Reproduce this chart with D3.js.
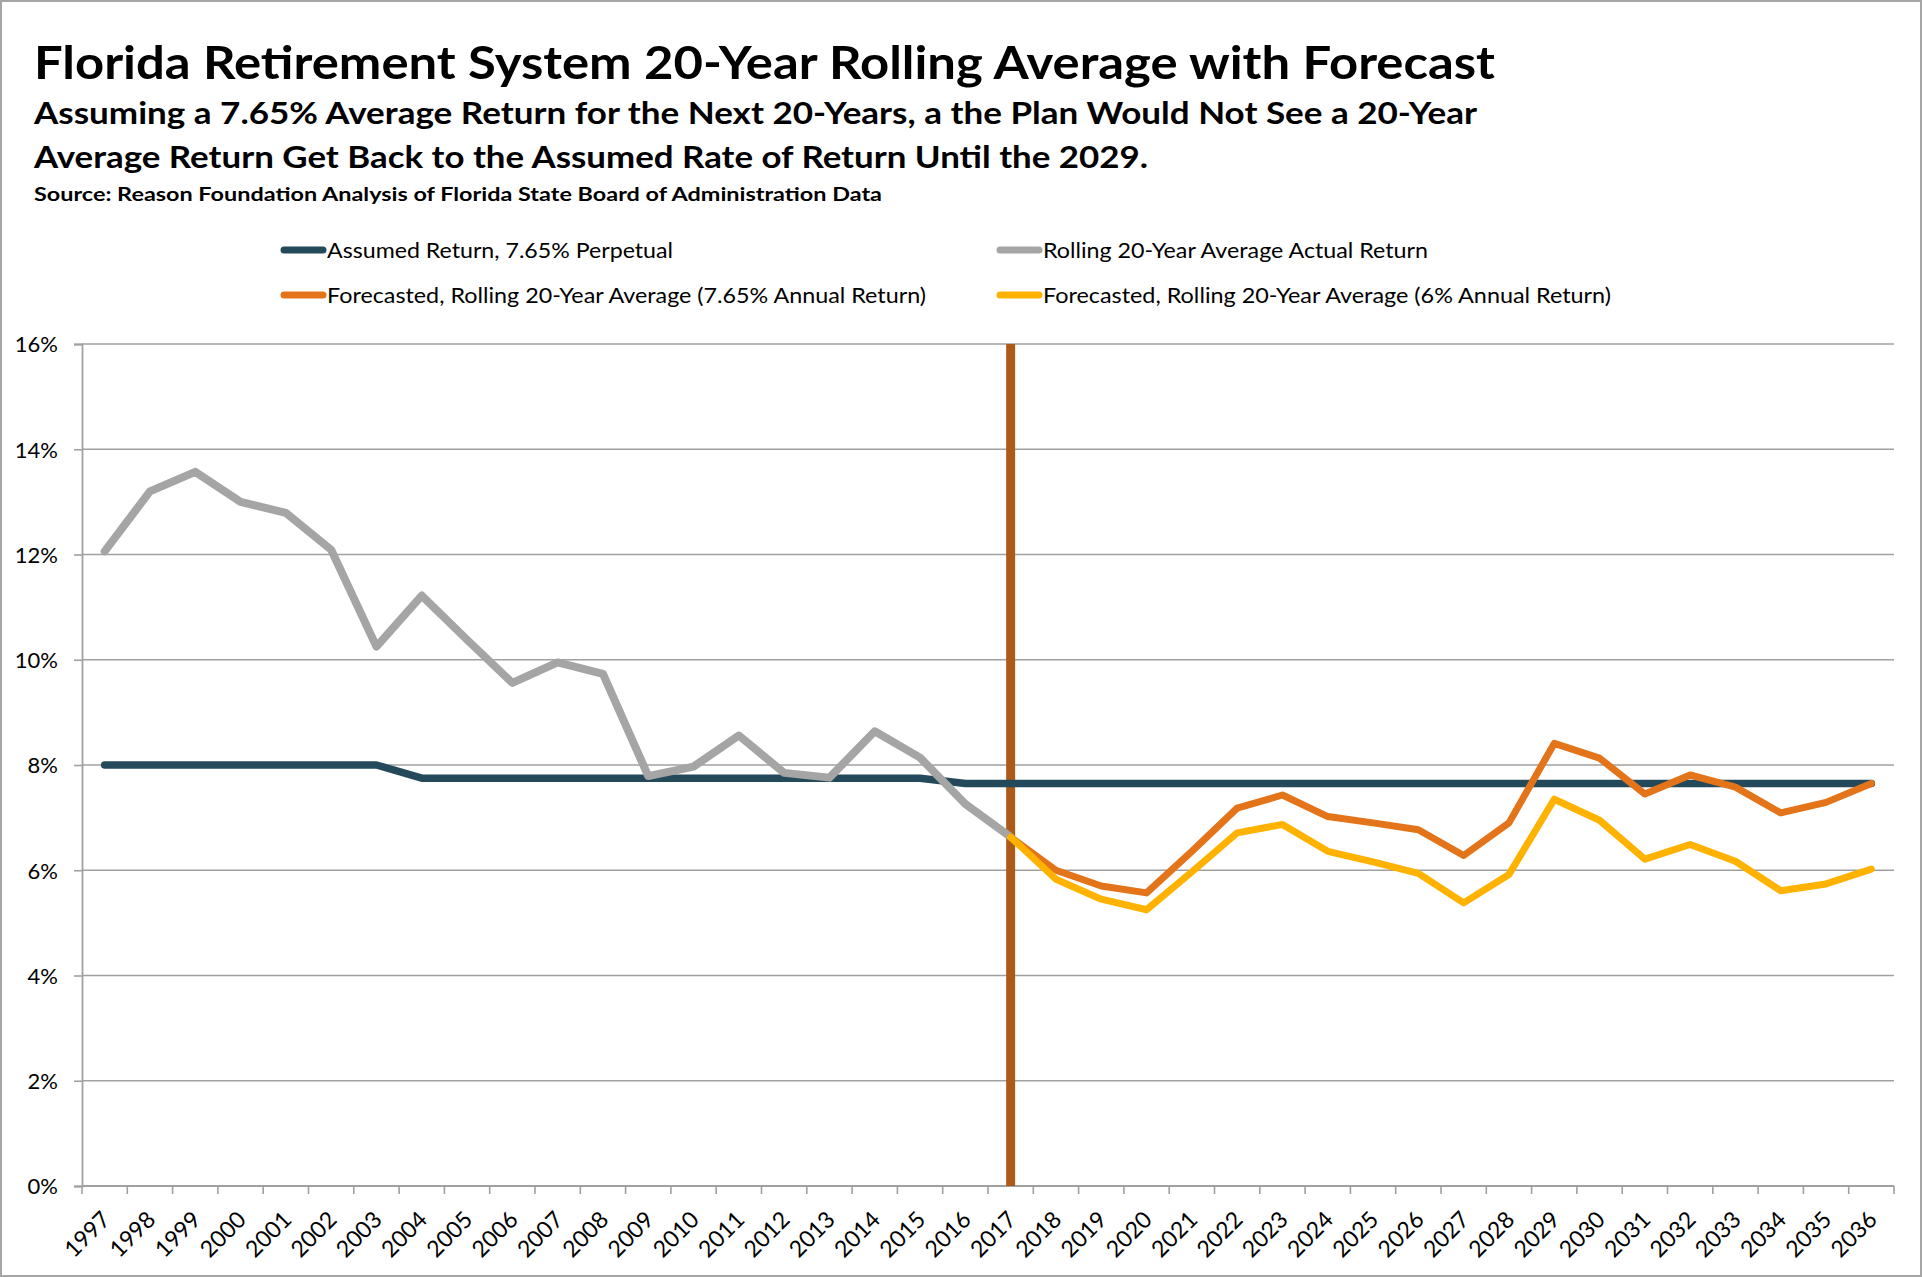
<!DOCTYPE html>
<html>
<head>
<meta charset="utf-8">
<script src="https://cdn.jsdelivr.net/npm/d3@7"></script>
<style>
  body { margin: 0; background: #fff; }
  svg { display: block; }
</style>
</head>
<body>
<div id="chart"></div>
<script>
// data
var years = ["1997","1998","1999","2000","2001","2002","2003","2004","2005","2006",
  "2007","2008","2009","2010","2011","2012","2013","2014","2015","2016",
  "2017","2018","2019","2020","2021","2022","2023","2024","2025","2026",
  "2027","2028","2029","2030","2031","2032","2033","2034","2035","2036"];

// assumed return, 1997-2036
var assumedReturn = [8, 8, 8, 8, 8, 8, 8, 7.75, 7.75, 7.75,
  7.75, 7.75, 7.75, 7.75, 7.75, 7.75, 7.75, 7.75, 7.75, 7.65,
  7.65, 7.65, 7.65, 7.65, 7.65, 7.65, 7.65, 7.65, 7.65, 7.65,
  7.65, 7.65, 7.65, 7.65, 7.65, 7.65, 7.65, 7.65, 7.65, 7.65];

// rolling 20-year actual, 1997-2017
var actualYears = years.slice(0, 21);
var actualReturn = [12.06, 13.2, 13.57, 13.0, 12.79, 12.09, 10.25, 11.22, 10.38, 9.56,
  9.95, 9.73, 7.79, 7.97, 8.56, 7.85, 7.76, 8.64, 8.14, 7.26, 6.63];

// forecasts, 2017-2036
var forecastYears = years.slice(20);
var forecast765 = [6.63, 6.0, 5.7, 5.57, 6.36, 7.18, 7.43, 7.02, 6.9, 6.77,
  6.28, 6.9, 8.41, 8.13, 7.45, 7.81, 7.58, 7.09, 7.29, 7.65];
var forecast6 = [6.63, 5.83, 5.45, 5.25, 5.97, 6.71, 6.87, 6.36, 6.16, 5.94,
  5.38, 5.92, 7.35, 6.95, 6.21, 6.49, 6.17, 5.61, 5.74, 6.02];

var yTicks = [0, 2, 4, 6, 8, 10, 12, 14, 16];
var markerYear = "2017";

var seriesNames = ["Assumed Return, 7.65% Perpetual",
  "Rolling 20-Year Average Actual Return",
  "Forecasted, Rolling 20-Year Average (7.65% Annual Return)",
  "Forecasted, Rolling 20-Year Average (6% Annual Return)"];
var seriesColors = ["#23495A", "#A5A5A5", "#E3741A", "#FFB300"];

//set the svg size
var svgWidth = 1922;
var svgHeight = 1277;

var margin = {
  top: 344,
  right: 28,
  bottom: 91,
  left: 82
};

var width = svgWidth - margin.left - margin.right;
var height = svgHeight - margin.top - margin.bottom;

var svg = d3.select("#chart")
  .append("svg")
  .attr("width", svgWidth)
  .attr("height", svgHeight);

svg.append("rect")
  .attr("x", 1)
  .attr("y", 1)
  .attr("width", svgWidth - 2)
  .attr("height", svgHeight - 2)
  .attr("fill", "#fff")
  .attr("stroke", "#A6A6A6")
  .attr("stroke-width", 2);

// squeeze or stretch a text to the width seen in the picture
function fitText(sel, w) {
  var len = sel.node().getComputedTextLength();
  if (Math.abs(len - w) > 2) {
    sel.attr("textLength", w).attr("lengthAdjust", "spacingAndGlyphs");
  }
  return sel;
}

// titles
var titleFont = "Lato, 'Open Sans', sans-serif";

fitText(svg.append("text")
  .attr("x", 34)
  .attr("y", 79)
  .attr("font-family", titleFont)
  .attr("font-weight", "bold")
  .attr("font-size", 46)
  .attr("fill", "#000")
  .text("Florida Retirement System 20-Year Rolling Average with Forecast"), 1461);

fitText(svg.append("text")
  .attr("x", 34)
  .attr("y", 124)
  .attr("font-family", titleFont)
  .attr("font-weight", "bold")
  .attr("font-size", 30)
  .text("Assuming a 7.65% Average Return for the Next 20-Years, a the Plan Would Not See a 20-Year"), 1443);

fitText(svg.append("text")
  .attr("x", 34)
  .attr("y", 168)
  .attr("font-family", titleFont)
  .attr("font-weight", "bold")
  .attr("font-size", 30)
  .text("Average Return Get Back to the Assumed Rate of Return Until the 2029."), 1114);

fitText(svg.append("text")
  .attr("x", 34)
  .attr("y", 201)
  .attr("font-family", titleFont)
  .attr("font-weight", "bold")
  .attr("font-size", 19)
  .text("Source: Reason Foundation Analysis of Florida State Board of Administration Data"), 848);

// legend, two rows of two
var legendPos = [[281, 250], [997, 250], [281, 295], [997, 295]];
var legendWidths = [346, 385, 599, 568];

var legend = svg.append("g");
seriesNames.forEach(function(name, i) {
  var p = legendPos[i];
  legend.append("line")
    .attr("x1", p[0] + 3)
    .attr("x2", p[0] + 42)
    .attr("y1", p[1])
    .attr("y2", p[1])
    .attr("stroke", seriesColors[i])
    .attr("stroke-width", 7)
    .attr("stroke-linecap", "round");
  fitText(legend.append("text")
    .attr("x", p[0] + 46)
    .attr("y", p[1] + 8)
    .attr("font-family", titleFont)
    .attr("font-size", 21)
    .attr("fill", "#000")
    .text(name), legendWidths[i]);
});

var chartGroup = svg.append("g")
  .attr("transform", `translate(${margin.left}, ${margin.top})`);

// scales
var xBand = d3.scaleBand()
  .domain(years)
  .range([0, width]);

var xPoint = function(d) { return xBand(d) + xBand.bandwidth() / 2; };

var yLinearScale = d3.scaleLinear()
  .domain([0, 16])
  .range([height, 0]);

// gridlines
chartGroup.append("g")
  .selectAll("line")
  .data(yTicks.filter(d => d > 0))
  .enter()
  .append("line")
  .attr("x1", 0)
  .attr("x2", width)
  .attr("y1", d => yLinearScale(d))
  .attr("y2", d => yLinearScale(d))
  .attr("stroke", "#A0A0A0")
  .attr("stroke-width", 1.6);

// y axis
var leftAxis = d3.axisLeft(yLinearScale)
  .tickValues(yTicks)
  .tickSize(8)
  .tickPadding(16)
  .tickFormat(d => d + "%");

var yAxis = chartGroup.append("g").call(leftAxis);
yAxis.select(".domain").attr("stroke", "#A0A0A0").attr("stroke-width", 1.8);
yAxis.selectAll(".tick line").attr("stroke", "#A0A0A0").attr("stroke-width", 1.6);
yAxis.selectAll(".tick text")
  .attr("font-family", titleFont)
  .attr("font-size", 22)
  .attr("dy", "0.36em")
  .attr("fill", "#000");

// x axis, ticks between categories
var xAxis = chartGroup.append("g")
  .attr("transform", `translate(0, ${height})`);

xAxis.append("line")
  .attr("x1", 0)
  .attr("x2", width)
  .attr("stroke", "#A0A0A0")
  .attr("stroke-width", 1.8);

xAxis.selectAll(".xtick")
  .data(years.concat(["end"]))
  .enter()
  .append("line")
  .attr("class", "xtick")
  .attr("x1", (d, i) => i < years.length ? xBand(d) : width)
  .attr("x2", (d, i) => i < years.length ? xBand(d) : width)
  .attr("y1", 0)
  .attr("y2", 8)
  .attr("stroke", "#A0A0A0")
  .attr("stroke-width", 1.6);

xAxis.selectAll(".xlabel")
  .data(years)
  .enter()
  .append("text")
  .attr("class", "xlabel")
  .attr("transform", d => `translate(${xPoint(d) + 7}, 35) rotate(-45)`)
  .attr("text-anchor", "end")
  .attr("font-family", titleFont)
  .attr("font-size", 23)
  .attr("fill", "#000")
  .text(d => d);

// vertical marker at the last actual year
chartGroup.append("line")
  .attr("x1", xPoint(markerYear))
  .attr("x2", xPoint(markerYear))
  .attr("y1", 0)
  .attr("y2", height)
  .attr("stroke", "#AD5A18")
  .attr("stroke-width", 9);

var line = d3.line()
  .x(d => xPoint(d[0]))
  .y(d => yLinearScale(d[1]));

var series = [
  d3.zip(years, assumedReturn),
  d3.zip(actualYears, actualReturn),
  d3.zip(forecastYears, forecast765),
  d3.zip(forecastYears, forecast6)
];
var lineWidths = [7.5, 8, 7, 7];

chartGroup.selectAll(".series")
  .data(series)
  .enter()
  .append("path")
  .attr("class", "series")
  .attr("d", d => line(d))
  .attr("fill", "none")
  .attr("stroke", (d, i) => seriesColors[i])
  .attr("stroke-width", (d, i) => lineWidths[i])
  .attr("stroke-linejoin", "round")
  .attr("stroke-linecap", "round");
</script>
</body>
</html>
